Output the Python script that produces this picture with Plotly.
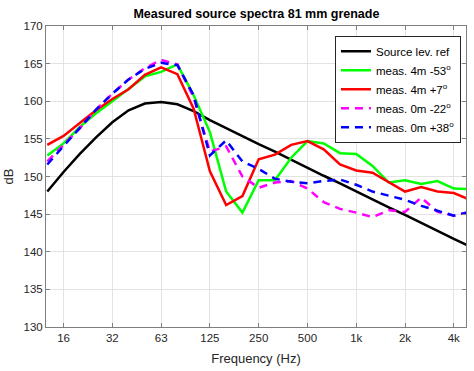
import plotly.graph_objects as go

# third-octave bands (index 0 = 12.5 Hz ... 26 = 5 kHz)
bands = ["12.5", "16", "20", "25", "31.5", "40", "50", "63", "80", "100", "125", "160",
         "200", "250", "315", "400", "500", "630", "800", "1k", "1.25k", "1.6k", "2k",
         "2.5k", "3.15k", "4k", "5k"]
tick_labels = ["16", "32", "63", "125", "250", "500", "1k", "2k", "4k"]
tick_bands = ["16", "31.5", "63", "125", "250", "500", "1k", "2k", "4k"]

source_ref = [148.0, 150.6, 153.0, 155.2, 157.2, 158.8, 159.7, 159.9, 159.6, 158.7, 157.5,
              156.4, 155.4, 154.3, 153.3, 152.2, 151.2, 150.1, 149.1, 148.0, 147.0, 145.9,
              144.9, 143.8, 142.8, 141.7, 140.7]
meas_4m_m53 = [152.8, 154.4, 156.6, 158.4, 160.0, 161.6, 163.3, 163.9, 164.9, 160.8, 155.9,
               148.0, 145.2, 149.5, 149.5, 152.5, 154.7, 154.4, 153.1, 153.0, 151.4, 149.2,
               149.5, 149.0, 149.4, 148.4, 148.3]
meas_4m_p7 = [154.2, 155.4, 157.1, 158.8, 160.3, 161.6, 163.5, 164.5, 163.6, 159.0, 150.7,
              146.2, 147.4, 152.3, 152.9, 154.2, 154.7, 153.6, 151.6, 150.8, 150.5, 149.3,
              148.0, 148.6, 148.0, 147.8, 146.9]
meas_0m_m22 = [152.0, 154.2, 156.4, 158.9, 161.0, 162.9, 164.4, 165.5, 164.9, 160.5, 153.3,
               154.0, 150.0, 148.5, 149.2, 149.4, 148.4, 146.6, 145.7, 145.2, 144.6, 145.5,
               145.3, 147.2, 145.3, 144.8, 145.3]
meas_0m_p38 = [151.6, 154.0, 156.5, 158.9, 161.0, 162.9, 164.3, 165.1, 164.8, 160.8, 152.8,
               154.8, 152.0, 151.0, 149.7, 149.3, 149.1, 149.4, 149.6, 148.9, 148.0, 147.5,
               146.9, 146.1, 145.4, 144.8, 145.3]

x = list(range(len(bands)))
tickvals = [bands.index(b) for b in tick_bands]

series = [
    ("Source lev. ref", source_ref, "#000000", "solid"),
    ("meas. 4m -53<sup>o</sup>", meas_4m_m53, "#00ff00", "solid"),
    ("meas. 4m +7<sup>o</sup>", meas_4m_p7, "#ff0000", "solid"),
    ("meas. 0m -22<sup>o</sup>", meas_0m_m22, "#ff00ff", "8px,6px"),
    ("meas. 0m +38<sup>o</sup>", meas_0m_p38, "#0000ff", "8px,6px"),
]

fig = go.Figure()
for name, y, color, dash in series:
    fig.add_trace(go.Scatter(x=x, y=y, mode="lines", name=name,
                             line=dict(color=color, width=2.5, dash=dash)))

font = "Liberation Sans, Arial, sans-serif"
axis_common = dict(showline=True, linecolor="#7f7f7f", linewidth=1, mirror="ticks",
                   ticks="inside", ticklen=4, tickcolor="#7f7f7f", automargin=False,
                   showgrid=True, gridcolor="#e3e3e3", gridwidth=1, zeroline=False,
                   tickfont=dict(family=font, size=11.5, color="#262626"))

fig.update_layout(
    width=474, height=371,
    margin=dict(l=46, r=8, t=26, b=44),
    paper_bgcolor="white", plot_bgcolor="white",
    title=dict(text="<b>Measured source spectra 81 mm grenade</b>", x=0.541, xanchor="center",
               y=0.962, yanchor="middle", font=dict(family=font, size=12.5, color="black")),
    xaxis=dict(range=[-0.08, 25.75], tickvals=tickvals, ticktext=tick_labels,
               title=dict(text="Frequency (Hz)", standoff=11,
                          font=dict(family=font, size=13, color="#262626")),
               **axis_common),
    yaxis=dict(range=[130, 170], tickvals=list(range(130, 171, 5)),
               title=dict(text="dB", standoff=6,
                          font=dict(family=font, size=13, color="#262626")),
               **axis_common),
    legend=dict(x=0.988, xanchor="right", y=0.968, yanchor="top",
                bgcolor="white", bordercolor="#262626", borderwidth=1,
                font=dict(family=font, size=11.5, color="black"),
                tracegroupgap=0, itemwidth=30),
    showlegend=True,
)

fig.write_html("out.html", config={"displayModeBar": False},
               post_script="document.body.style.margin='0px';")
